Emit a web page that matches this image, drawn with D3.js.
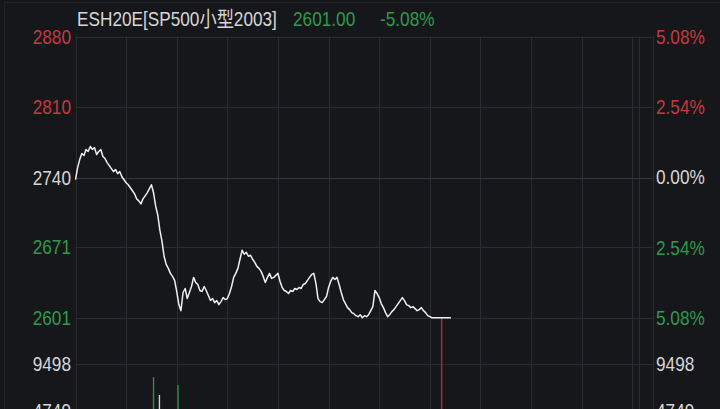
<!DOCTYPE html>
<html>
<head>
<meta charset="utf-8">
<script src="https://cdn.jsdelivr.net/npm/d3@7"></script>
<style>
  body { margin: 0; background: #16171b; }
  svg { display: block; }
  text { font-family: "Liberation Sans", "Noto Sans CJK SC", sans-serif; }
</style>
</head>
<body>
<div id="chart"></div>
<script>
// header
var title = "ESH20E[SP500小型2003]";
var lastPrice = "2601.00";
var lastChange = "-5.08%";

// axes
var priceTicks = [2880, 2810, 2740, 2671, 2601];
var pctTicks = [5.08, 2.54, 0, -2.54, -5.08];
var volTicks = [9498, 4749];
var gridMinutes = [0, 120, 240, 360, 480, 600, 720, 840, 960, 1080, 1200, 1320, 1335, 1368];

// price every 5 minutes from the open
var stepMin = 5;
var prices = [
  2738, 2750, 2758, 2764, 2762, 2768, 2766, 2771, 2768, 2770,
  2763, 2766, 2768, 2761, 2759, 2755, 2752, 2749, 2746, 2748,
  2744, 2746, 2741, 2738, 2735, 2733, 2730, 2727, 2724, 2719,
  2717, 2714, 2719, 2722, 2725, 2729, 2733, 2725, 2712, 2703,
  2688, 2677, 2662, 2654, 2650, 2645, 2642, 2638, 2627, 2614,
  2608, 2626, 2630, 2620, 2626, 2632, 2641, 2636, 2634, 2628,
  2627, 2632, 2628, 2623, 2618, 2620, 2616, 2618, 2614, 2617,
  2621, 2619, 2620, 2625, 2632, 2641, 2645, 2650, 2659, 2668,
  2664, 2666, 2662, 2663, 2659, 2656, 2652, 2650, 2647, 2642,
  2636, 2641, 2645, 2640, 2641, 2643, 2645, 2637, 2631, 2628,
  2627, 2625, 2628, 2627, 2630, 2629, 2631, 2630, 2634, 2635,
  2638, 2641, 2644, 2645, 2635, 2620, 2617, 2616, 2619, 2622,
  2631, 2637, 2641, 2639, 2641, 2634, 2626, 2619, 2615, 2611,
  2609, 2606, 2605, 2603, 2602, 2604, 2601, 2603, 2602, 2604,
  2608, 2612, 2628, 2625, 2621, 2615, 2611, 2606, 2602, 2604,
  2607, 2609, 2612, 2615, 2618, 2621, 2618, 2614, 2613, 2611,
  2612, 2610, 2608, 2609, 2611, 2608, 2606, 2603, 2602, 2601,
  2601, 2601, 2601, 2601, 2601, 2601, 2601, 2601, 2601
];

// visible volume bars
var volMinutes = [185, 199, 243, 868];
var volValues = [8165, 6318, 7344, 40000];
var volDir = ["down", "flat", "down", "up"];

var W = 720, H = 409;
var red = "#c7393f", green = "#2f9a4c", white = "#d6d6d6", grid = "#2b2c31";
var fs = 21, squeeze = 0.82;

var svg = d3.select("#chart").append("svg")
    .attr("width", W)
    .attr("height", H);

svg.append("rect").attr("width", W).attr("height", H).attr("fill", "#16171b");

// faint screenshot frame
svg.append("rect")
    .attr("x", 4.5).attr("y", 2.5)
    .attr("width", W + 10).attr("height", H + 10)
    .attr("fill", "none").attr("stroke", "#222328");

var x = d3.scaleLinear().domain([0, 1368]).range([75.5, 652.5]);
var y = d3.scaleLinear().domain([2601, 2880]).range([317.7, 36.7]);
var yPct = d3.scaleLinear().domain([-5.08, 5.08]).range([317.7, 36.7]);
var yVol = d3.scaleLinear().domain([0, 14247]).range([456.6, 317.7]);

// grid
svg.append("g").selectAll("line")
    .data(gridMinutes)
    .enter().append("line")
    .attr("x1", function(d){ return Math.round(x(d)) + 0.5; })
    .attr("x2", function(d){ return Math.round(x(d)) + 0.5; })
    .attr("y1", 36.5)
    .attr("y2", H)
    .attr("stroke", grid)
    .attr("stroke-width", 1);

svg.append("g").selectAll("line")
    .data(priceTicks)
    .enter().append("line")
    .attr("x1", x(0)).attr("x2", x(1368))
    .attr("y1", function(d){ return Math.round(y(d)) + 0.5; })
    .attr("y2", function(d){ return Math.round(y(d)) + 0.5; })
    .attr("stroke", function(d){ return d == 2740 ? "#36373c" : grid; })
    .attr("stroke-width", 1);

svg.append("g").selectAll("line")
    .data(volTicks)
    .enter().append("line")
    .attr("x1", x(0)).attr("x2", x(1368))
    .attr("y1", function(d){ return Math.round(yVol(d)) + 0.5; })
    .attr("y2", function(d){ return Math.round(yVol(d)) + 0.5; })
    .attr("stroke", grid)
    .attr("stroke-width", 1);

// volume bars
svg.append("clipPath").attr("id", "volclip")
    .append("rect").attr("x", 0).attr("y", 318).attr("width", W).attr("height", H);

svg.append("g").attr("clip-path", "url(#volclip)")
    .selectAll("line")
    .data(volMinutes)
    .enter().append("line")
    .attr("x1", function(d){ return x(d); })
    .attr("x2", function(d){ return x(d); })
    .attr("y1", yVol(0))
    .attr("y2", function(d, i){ return yVol(volValues[i]); })
    .attr("stroke", function(d, i){
        return volDir[i] == "up" ? "#b5283a" : volDir[i] == "down" ? "#2e8f45" : "#cfcfcf";
    })
    .attr("stroke-width", 1.4);

// price line
var line = d3.line()
    .x(function(d, i){ return x(i * stepMin); })
    .y(function(d){ return y(d); });

svg.append("path")
    .datum(prices)
    .attr("d", line)
    .attr("fill", "none")
    .attr("stroke", "#efefef")
    .attr("stroke-width", 1.5)
    .attr("stroke-linejoin", "round");

function styleAxis(g, colorFn) {
    g.select(".domain").remove();
    g.selectAll("text")
        .attr("font-size", fs)
        .attr("font-family", null)
        .attr("transform", "scale(" + squeeze + ",1)")
        .attr("fill", colorFn);
}

// left axis
var axisL = d3.axisLeft(y).tickValues(priceTicks).tickSize(0).tickPadding(0)
    .tickFormat(d3.format("d"));
styleAxis(svg.append("g").attr("transform", "translate(71,0)").call(axisL),
    function(d){ return d > 2740 ? red : d < 2740 ? green : white; });

var axisLV = d3.axisLeft(yVol).tickValues(volTicks).tickSize(0).tickPadding(0)
    .tickFormat(d3.format("d"));
styleAxis(svg.append("g").attr("transform", "translate(71,0)").call(axisLV),
    function(){ return white; });

// right axis
var axisR = d3.axisRight(yPct).tickValues(pctTicks).tickSize(0).tickPadding(0)
    .tickFormat(function(d){ return Math.abs(d).toFixed(2) + "%"; });
styleAxis(svg.append("g").attr("transform", "translate(656,0)").call(axisR),
    function(d){ return d > 0 ? red : d < 0 ? green : white; });

var axisRV = d3.axisRight(yVol).tickValues(volTicks).tickSize(0).tickPadding(0)
    .tickFormat(d3.format("d"));
styleAxis(svg.append("g").attr("transform", "translate(656,0)").call(axisRV),
    function(){ return white; });

// header
var header = [
    { t: title, x: 77, c: white },
    { t: lastPrice, x: 293, c: green },
    { t: lastChange, x: 380, c: green }
];
svg.append("g").selectAll("text")
    .data(header)
    .enter().append("text")
    .attr("transform", function(d){ return "translate(" + d.x + ",26) scale(" + squeeze + ",1)"; })
    .attr("font-size", fs)
    .attr("fill", function(d){ return d.c; })
    .text(function(d){ return d.t; });
</script>
</body>
</html>
